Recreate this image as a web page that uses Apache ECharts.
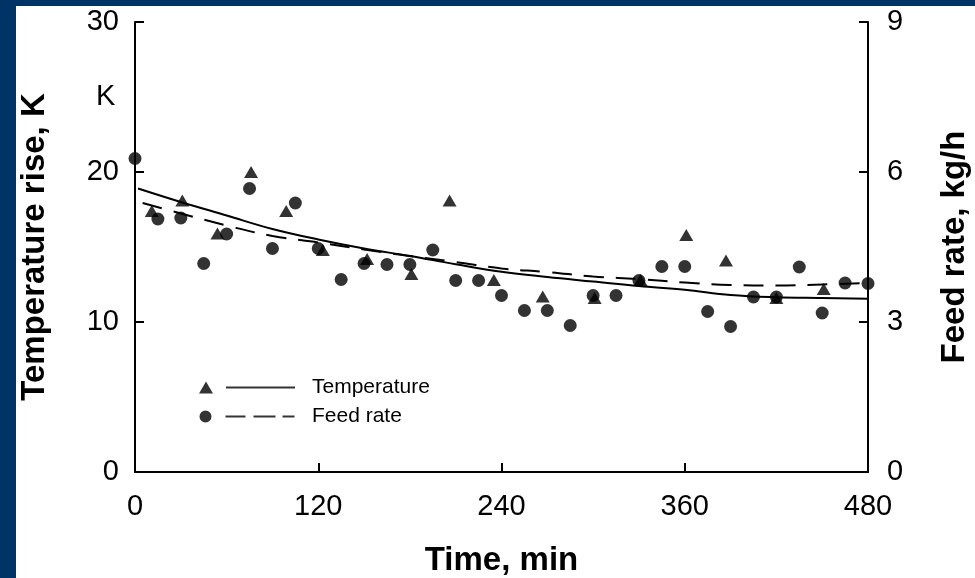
<!DOCTYPE html>
<html>
<head>
<meta charset="utf-8">
<script src="https://cdn.jsdelivr.net/npm/echarts@6/dist/echarts.min.js"></script>
<style>
    html, body { margin: 0; padding: 0; background: #003366; }
    #frame { position: relative; width: 975px; height: 578px; background: #003366; overflow: hidden; }
    #chart { position: absolute; left: 16px; top: 6px; width: 959px; height: 572px; background: #fff; }
</style>
</head>
<body>
<div id="frame"><div id="chart"></div></div>
<script>
    // measured points
    var tempTime = [11, 31, 54, 76, 99, 123, 152, 181, 206, 235, 267, 301, 331, 361, 387, 420, 451];
    var tempRise = [17.4, 18.1, 15.9, 20.0, 17.4, 14.8, 14.2, 13.2, 18.1, 12.8, 11.7, 11.6, 12.8, 15.8, 14.1, 11.6, 12.2];

    var feedTime = [0, 15, 30, 45, 60, 75, 90, 105, 120, 135, 150, 165, 180, 195, 210, 225,
        240, 255, 270, 285, 300, 315, 330, 345, 360, 375, 390, 405, 420, 435, 450, 465, 480];
    var feedRate = [6.27, 5.06, 5.08, 4.17, 4.76, 5.67, 4.47, 5.38, 4.47, 3.85, 4.17, 4.15, 4.15, 4.44, 3.83, 3.83,
        3.53, 3.23, 3.23, 2.93, 3.53, 3.53, 3.83, 4.11, 4.11, 3.21, 2.91, 3.5, 3.5, 4.1, 3.18, 3.78, 3.77];

    // fitted curves
    var tempFitTime = [2, 30, 60, 90, 120, 150, 180, 210, 240, 270, 300, 330, 360, 390, 420, 450, 480];
    var tempFit = [18.9, 18.0, 17.1, 16.2, 15.5, 14.9, 14.4, 13.85, 13.35, 13.0, 12.7, 12.4, 12.15, 11.8, 11.65, 11.6, 11.55];
    var feedFitTime = [5, 30, 60, 90, 120, 150, 180, 210, 240, 270, 300, 330, 360, 390, 420, 450, 480];
    var feedFit = [5.38, 5.17, 4.93, 4.72, 4.59, 4.45, 4.32, 4.2, 4.07, 4.0, 3.91, 3.86, 3.79, 3.74, 3.73, 3.75, 3.78];

    var xTicks = [0, 120, 240, 360, 480];
    var leftTicks = [0, 10, 20, 30];
    var rightTicks = [0, 3, 6, 9];

    function pairs(xs, ys) {
        var out = [];
        for (var i = 0; i < xs.length; i++) {
            out.push([xs[i], ys[i]]);
        }
        return out;
    }

    var font = "'Liberation Sans', Arial, sans-serif";
    var axisLine = { show: true, lineStyle: { color: '#000', width: 2 } };
    var axisTick = { show: true, inside: true, length: 9, lineStyle: { color: '#000', width: 2 } };

    var chart = echarts.init(document.getElementById('chart'));
    var option = {
        animation: false,
        backgroundColor: '#fff',
        textStyle: { fontFamily: font },
        grid: { left: 119, right: 107, top: 16, bottom: 106, outerBoundsMode: 'none' },
        legend: {
            orient: 'vertical',
            left: 183,
            top: 371,
            padding: 0,
            itemWidth: 96,
            itemHeight: 12,
            itemGap: 8,
            selectedMode: false,
            textStyle: { color: '#000', fontSize: 21, fontFamily: font, padding: [0, 0, 0, 12] },
            data: [
                { name: 'Temperature', icon: 'path://M0,12 L7,0 L14,12 Z M27,5 L96,5 L96,7 L27,7 Z' },
                { name: 'Feed rate', icon: 'path://M1,6 A6,6 0 1,1 13,6 A6,6 0 1,1 1,6 Z M27,5 L47,5 L47,7 L27,7 Z M55,5 L77,5 L77,7 L55,7 Z M84,5 L96,5 L96,7 L84,7 Z' }
            ]
        },
        graphic: [
            { type: 'text', left: 80, top: 76, style: { text: 'K', fontSize: 29, fontFamily: font, fill: '#000' } }
        ],
        xAxis: {
            type: 'value',
            min: xTicks[0],
            max: xTicks[xTicks.length - 1],
            interval: 120,
            name: 'Time, min',
            nameLocation: 'middle',
            nameGap: 72,
            nameTextStyle: { fontSize: 33, fontWeight: 'bold', color: '#000', fontFamily: font },
            axisLine: axisLine,
            axisTick: axisTick,
            splitLine: { show: false },
            axisLabel: { color: '#000', fontSize: 29, margin: 20, fontFamily: font }
        },
        yAxis: [
            {
                type: 'value',
                min: leftTicks[0],
                max: leftTicks[leftTicks.length - 1],
                interval: 10,
                name: 'Temperature rise, K',
                nameLocation: 'middle',
                nameGap: 84,
                nameTextStyle: { fontSize: 33, fontWeight: 'bold', color: '#000', fontFamily: font },
                axisLine: axisLine,
                axisTick: axisTick,
                splitLine: { show: false },
                axisLabel: { color: '#000', fontSize: 29, margin: 16, fontFamily: font }
            },
            {
                type: 'value',
                position: 'right',
                min: rightTicks[0],
                max: rightTicks[rightTicks.length - 1],
                interval: 3,
                name: 'Feed rate, kg/h',
                nameLocation: 'middle',
                nameRotate: 90,
                nameGap: 70,
                nameTextStyle: { fontSize: 33, fontWeight: 'bold', color: '#000', fontFamily: font },
                axisLine: axisLine,
                axisTick: axisTick,
                splitLine: { show: false },
                axisLabel: { color: '#000', fontSize: 29, margin: 19, fontFamily: font }
            }
        ],
        series: [
            {
                name: 'Temperature',
                type: 'scatter',
                yAxisIndex: 0,
                symbol: 'triangle',
                symbolSize: [14, 12],
                itemStyle: { color: '#000' },
                data: pairs(tempTime, tempRise),
                z: 4
            },
            {
                name: 'Feed rate',
                type: 'scatter',
                yAxisIndex: 1,
                symbol: 'circle',
                symbolSize: 13,
                itemStyle: { color: '#000' },
                data: pairs(feedTime, feedRate),
                z: 4
            },
            {
                name: 'Temperature',
                type: 'line',
                yAxisIndex: 0,
                smooth: 0.4,
                showSymbol: false,
                symbol: 'none',
                lineStyle: { color: '#000', width: 2 },
                itemStyle: { color: '#000' },
                data: pairs(tempFitTime, tempFit),
                z: 3
            },
            {
                name: 'Feed rate',
                type: 'line',
                yAxisIndex: 1,
                smooth: 0.4,
                showSymbol: false,
                symbol: 'none',
                lineStyle: { color: '#000', width: 2, type: [20, 12] },
                itemStyle: { color: '#000' },
                data: pairs(feedFitTime, feedFit),
                z: 3
            }
        ]
    };
    chart.setOption(option);
</script>
</body>
</html>
